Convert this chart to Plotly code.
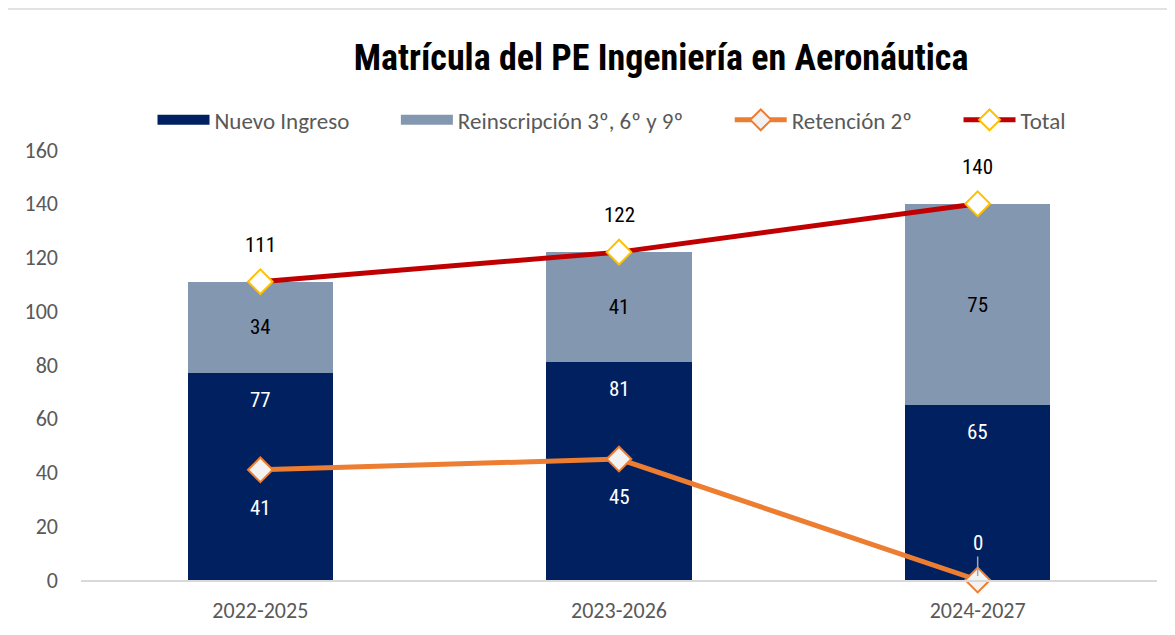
import plotly.graph_objects as go

categories = ["2022-2025", "2023-2026", "2024-2027"]
nuevo_ingreso = [77, 81, 65]
reinscripcion = [34, 41, 75]
retencion = [41, 45, 0]
total = [111, 122, 140]

NARROW = "Liberation Sans Narrow, Arial Narrow, Roboto Condensed, Liberation Sans, sans-serif"
CAL = "Carlito, Calibri, Lato, Open Sans, sans-serif"

C_NUEVO = "#002060"
C_REINS = "#8497B0"
C_RET = "#ED7D31"
C_TOT = "#C00000"

PAD = "\u00a0" * 8

fig = go.Figure()
fig.add_trace(go.Bar(
    x=categories, y=nuevo_ingreso, name="Nuevo Ingreso", showlegend=False,
    marker=dict(color=C_NUEVO, line=dict(width=0)),
))
fig.add_trace(go.Bar(
    x=categories, y=reinscripcion, name="Reinscripción 3º, 6º y 9º", showlegend=False,
    marker=dict(color=C_REINS, line=dict(width=0)),
    text=[str(v) for v in reinscripcion], textposition="inside",
    insidetextanchor="middle", textangle=0,
    textfont=dict(color="black", size=21, family=NARROW),
))
fig.add_trace(go.Scatter(
    x=categories, y=retencion, name="Retención 2º" + PAD, mode="lines+markers",
    line=dict(color=C_RET, width=5), cliponaxis=False,
    marker=dict(symbol="diamond", size=19, color="#F2F2F2",
                line=dict(color=C_RET, width=2)),
    legendrank=3,
))
fig.add_trace(go.Scatter(
    x=categories, y=total, name="Total", mode="lines+markers",
    line=dict(color=C_TOT, width=5), cliponaxis=False,
    marker=dict(symbol="diamond", size=19, color="white",
                line=dict(color="#FFC000", width=2)),
    legendrank=4,
))
# legend swatches for the bar series (wide rectangles like the original)
fig.add_trace(go.Scatter(x=[None], y=[None], mode="lines", name="Nuevo Ingreso" + PAD,
                         line=dict(color=C_NUEVO, width=14), legendrank=1))
fig.add_trace(go.Scatter(x=[None], y=[None], mode="lines", name="Reinscripción 3º, 6º y 9º" + PAD,
                         line=dict(color=C_REINS, width=14), legendrank=2))

annotations = []
for c, v in zip(categories, nuevo_ingreso):
    annotations.append(dict(x=c, y=v, text=str(v), showarrow=False, yshift=-27,
                            font=dict(size=21, color="white", family=NARROW)))
for c, v in zip(categories, total):
    annotations.append(dict(x=c, y=v, text=str(v), showarrow=False, yshift=37,
                            font=dict(size=21, color="black", family=NARROW)))
for c, v in zip(categories, retencion):
    if v == 0:
        annotations.append(dict(x=c, y=v, text=str(v), showarrow=True, ax=0, ay=-37,
                                arrowhead=0, arrowwidth=1.5, arrowcolor="#A6A6A6",
                                standoff=4,
                                font=dict(size=21, color="white", family=NARROW)))
    else:
        annotations.append(dict(x=c, y=v, text=str(v), showarrow=False, yshift=-38,
                                font=dict(size=21, color="white", family=NARROW)))

fig.update_layout(
    width=1167, height=627,
    margin=dict(l=73, r=18, t=142, b=55),
    paper_bgcolor="white", plot_bgcolor="white",
    barmode="stack", bargap=0.595,
    title=dict(text="<b>Matrícula del PE Ingeniería en Aeronáutica</b>",
               x=0.5596, xanchor="center", y=0.9219, yanchor="middle",
               font=dict(size=36, color="black", family=NARROW)),
    legend=dict(orientation="h", x=0.4935, xanchor="center", y=1.07, yanchor="middle",
                font=dict(size=23, color="#595959", family=CAL),
                traceorder="normal", bgcolor="rgba(0,0,0,0)", itemwidth=52),
    showlegend=True,
    annotations=annotations,
    shapes=[dict(type="rect", xref="paper", yref="paper",
                 x0=-0.0697, x1=1.03, y0=-0.15, y1=1.328,
                 line=dict(color="#D9D9D9", width=1.5), fillcolor="rgba(0,0,0,0)",
                 layer="below")],
)
fig.update_xaxes(showgrid=False, showline=True, linecolor="#D9D9D9", linewidth=2,
                 ticks="", tickfont=dict(size=22, color="#595959", family=CAL),
                 ticklabelstandoff=10)
fig.update_yaxes(range=[0, 160], dtick=20, showgrid=False, showline=False,
                 zeroline=False, ticks="",
                 tickfont=dict(size=22, color="#595959", family=CAL),
                 ticklabelstandoff=22)

fig.write_html("out.html")
